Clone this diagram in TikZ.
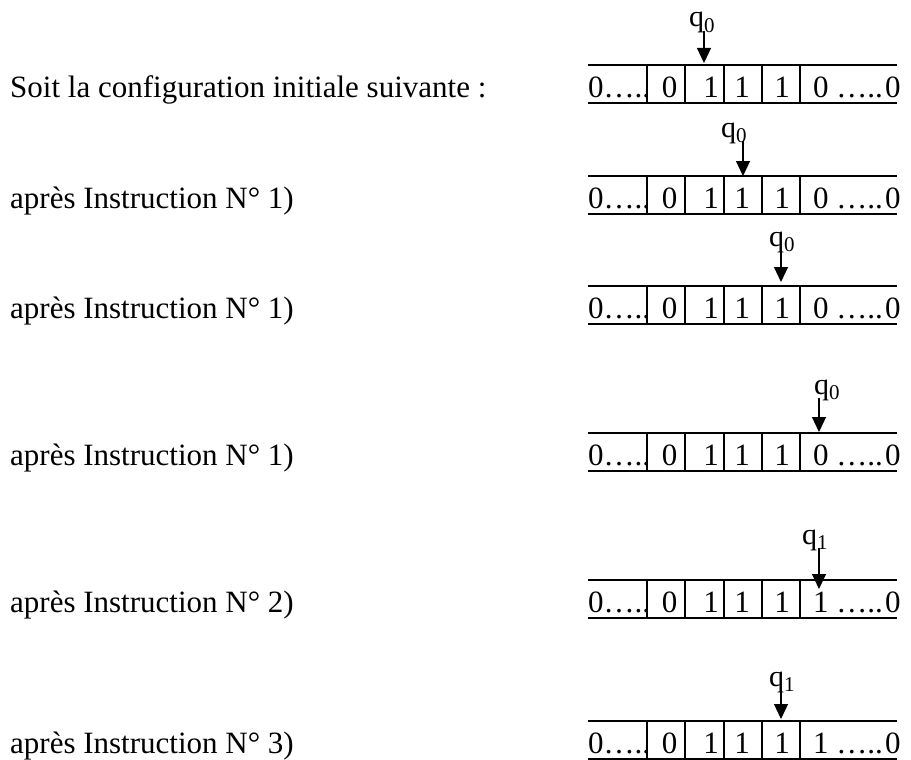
\documentclass[tikz,border=0pt]{standalone}
\usepackage{fontspec}
\setmainfont{Liberation Serif}
\usetikzlibrary{arrows.meta}
\newcommand\tmtape[3]{%
  \draw[tapeline] (588,#2) -- (897,#2);
  \draw[tapeline] (588,#2+38) -- (897,#2+38);
  \foreach \xx in {647,685,724,762,800} \draw[tapeline] (\xx,#2) -- (\xx,#2+38);
  \node[cellw] (#1c1) at (588,#2+32) {0…..};
  \node[cell] (#1c2) at (669.5,#2+32) {0};
  \node[cell] (#1c3) at (711,#2+32) {1};
  \node[cell] (#1c4) at (742,#2+32) {1};
  \node[cell] (#1c5) at (782,#2+32) {1};
  \node[cellw] (#1c6) at (813,#2+32) {#3 …..};
  \node[cellw] (#1c7) at (885,#2+32) {0};
}
\begin{document}
\begin{tikzpicture}[x=1pt,y=-1pt,
  tapeline/.style={line width=1.2pt},
  cell/.style={inner sep=0pt,anchor=base,font=\fontsize{31}{36}\selectfont},
  cellw/.style={cell,anchor=base west},
  lefttext/.style={inner sep=0pt,anchor=base west,font=\fontsize{31}{36}\selectfont},
  qlabel/.style={inner sep=0pt,anchor=base west,font=\fontsize{30}{34}\selectfont},
  headarrow/.style={line width=1.2pt,-{Triangle[width=14pt,length=15pt]}}]
\useasboundingbox (0,0) rectangle (911,760);

% left texts
\node[lefttext] (t1) at (10,97) {Soit la configuration initiale suivante :};
\node[lefttext] (t2) at (10,208) {après Instruction N° 1)};
\node[lefttext] (t3) at (10,318) {après Instruction N° 1)};
\node[lefttext] (t4) at (10,465) {après Instruction N° 1)};
\node[lefttext] (t5) at (10,612) {après Instruction N° 2)};
\node[lefttext] (t6) at (10,753) {après Instruction N° 3)};

% tapes
\tmtape{r1}{65}{0}
\tmtape{r2}{176}{0}
\tmtape{r3}{286}{0}
\tmtape{r4}{433}{0}
\tmtape{r5}{580}{1}
\tmtape{r6}{721}{1}

% head labels
\node[qlabel] (q1) at (689,27) {q\textsubscript{0}};
\node[qlabel] (q2) at (721,137) {q\textsubscript{0}};
\node[qlabel] (q3) at (769,246) {q\textsubscript{0}};
\node[qlabel] (q4) at (814,394) {q\textsubscript{0}};
\node[qlabel] (q5) at (802,544) {q\textsubscript{1}};
\node[qlabel] (q6) at (769,686) {q\textsubscript{1}};

% arrow tips
\coordinate (h1) at (704,63);
\coordinate (h2) at (743,176);
\coordinate (h3) at (781,282);
\coordinate (h4) at (819,432);
\coordinate (h5) at (819,589);
\coordinate (h6) at (781,719);

\draw[headarrow] (h1 |- q1.south) ++(0,-3) -- (h1);
\draw[headarrow] (h2 |- q2.south) ++(0,-3) -- (h2);
\draw[headarrow] (h3 |- q3.south) ++(0,-3) -- (h3);
\draw[headarrow] (h4 |- q4.south) ++(0,-3) -- (h4);
\draw[headarrow] (h5 |- q5.south) ++(0,-3) -- (h5);
\draw[headarrow] (h6 |- q6.south) ++(0,-3) -- (h6);
\end{tikzpicture}
\end{document}
